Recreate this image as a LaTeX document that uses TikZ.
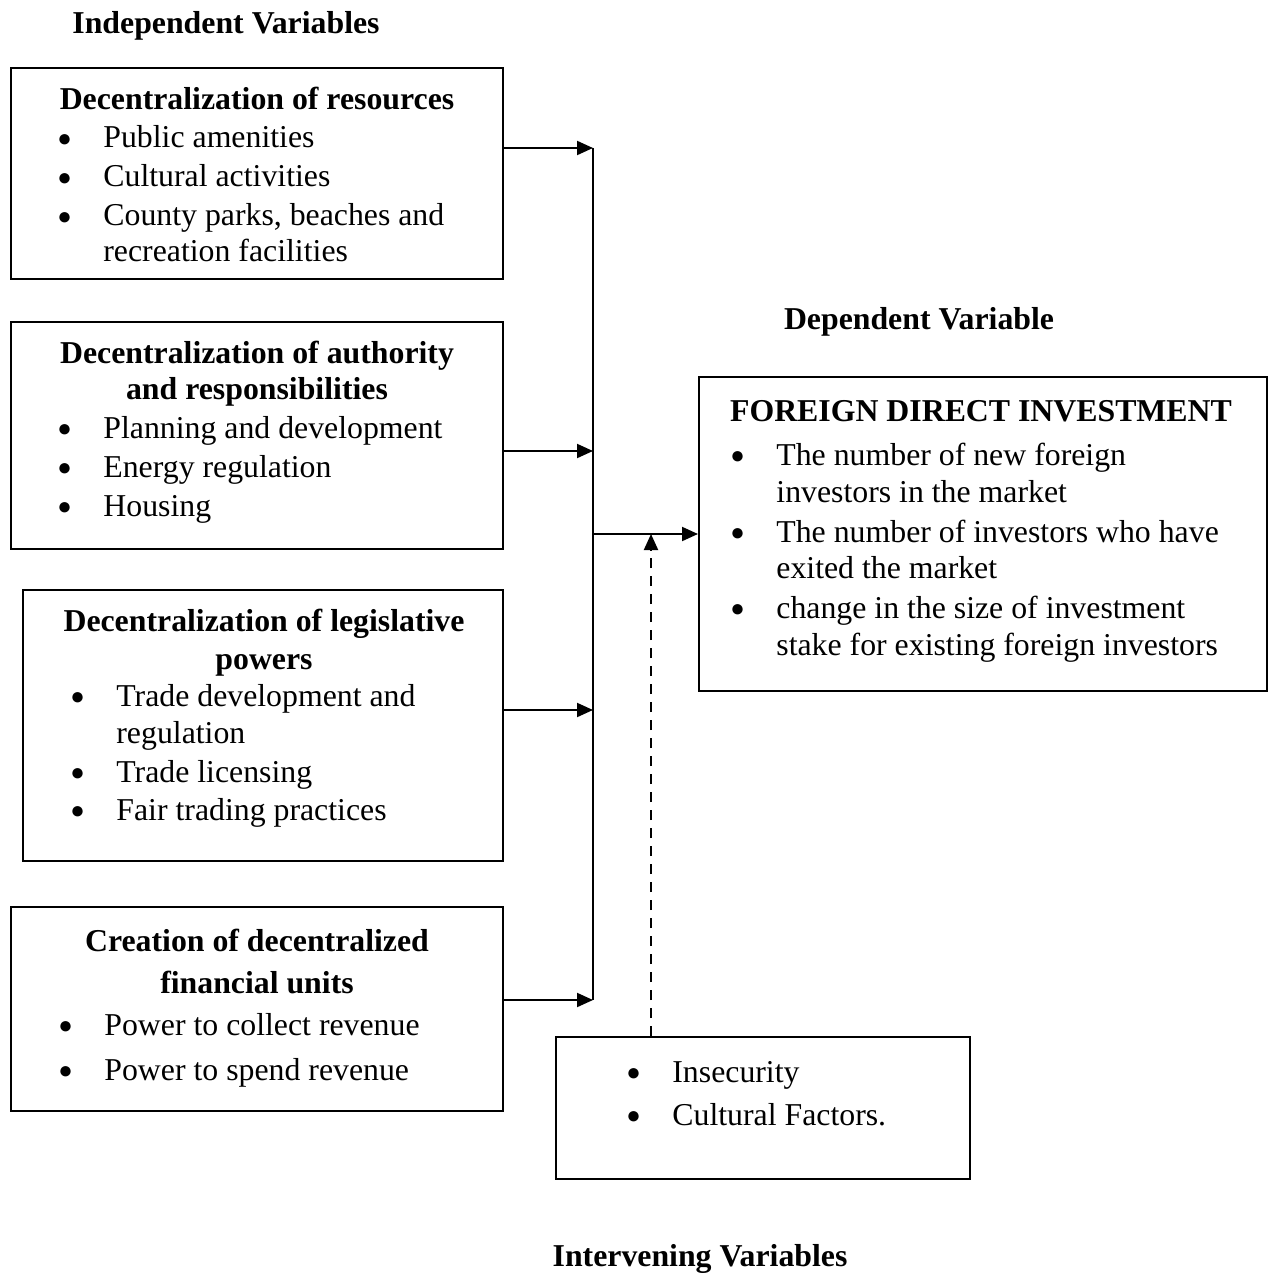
\documentclass[tikz,border=0pt]{standalone}
\usepackage{fontspec}
\setmainfont{Liberation Serif}
\usetikzlibrary{positioning,fit,arrows.meta}

\tikzset{
  box/.style={draw,line width=1pt,inner sep=0pt},
  head/.style={font=\bfseries,anchor=base,inner sep=0pt},
  blist/.style={anchor=base west,inner sep=0pt},
  arr/.style={line width=1pt,-{Triangle[length=8pt,width=7pt]}},
}
\newcommand{\bul}{\raisebox{0.8pt}{\fontsize{12}{12}\selectfont ●}}

\begin{document}
\fontsize{15.9}{18}\selectfont
\begin{tikzpicture}[x=0.5pt,y=-0.5pt]
\useasboundingbox (0,0) rectangle (1270,1273);

% headings
\node[head] (indep) at (226,34) {Independent Variables};
\node[head] (dep) at (919,329) {Dependent Variable};
\node[head] (inter) at (700,1266) {Intervening Variables};

% independent variables
\node[box,fit={(11,68) (503,279)}] (res) {};
\node[head] (resT) at (257,110) {Decentralization of resources};
\node[blist] (resL) at (57,148) {\begin{tabular}[t]{@{}p{23pt}@{}l@{}}
\bul & Public amenities\\[1.5pt]
\bul & Cultural activities\\[1.5pt]
\bul & County parks, beaches and\\
 & recreation facilities
\end{tabular}};

\node[box,fit={(11,322) (503,549)}] (auth) {};
\node[head] (authT) at (257,363) {\begin{tabular}[t]{@{}c@{}}
Decentralization of authority\\
and responsibilities
\end{tabular}};
\node[blist] (authL) at (57,438) {\begin{tabular}[t]{@{}p{23pt}@{}l@{}}
\bul & Planning and development\\[1.5pt]
\bul & Energy regulation\\[1.5pt]
\bul & Housing
\end{tabular}};

\node[box,fit={(23,590) (503,861)}] (leg) {};
\node[head] (legT) at (264,631) {\begin{tabular}[t]{@{}c@{}}
Decentralization of legislative\\[1pt]
powers
\end{tabular}};
\node[blist] (legL) at (70,706) {\begin{tabular}[t]{@{}p{23pt}@{}l@{}}
\bul & Trade development and\\[0.5pt]
 & regulation\\[1.5pt]
\bul & Trade licensing\\[1pt]
\bul & Fair trading practices
\end{tabular}};

\node[box,fit={(11,907) (503,1111)}] (fin) {};
\node[head] (finT) at (257,951) {\begin{tabular}[t]{@{}c@{}}
Creation of decentralized\\[3pt]
financial units
\end{tabular}};
\node[blist] (finL) at (58,1035) {\begin{tabular}[t]{@{}p{23pt}@{}l@{}}
\bul & Power to collect revenue\\[4.5pt]
\bul & Power to spend revenue
\end{tabular}};

% dependent variable
\node[box,fit={(699,377) (1267,691)}] (fdi) {};
\node[head] (fdiT) at (981,421) {FOREIGN DIRECT INVESTMENT};
\node[blist] (fdiL) at (730,465) {\begin{tabular}[t]{@{}p{23pt}@{}l@{}}
\bul & The number of new foreign\\[0.5pt]
 & investors in the market\\[2pt]
\bul & The number of investors who have\\
 & exited the market\\[2pt]
\bul & change in the size of investment\\[0.5pt]
 & stake for existing foreign investors
\end{tabular}};

% intervening variables
\node[box,fit={(556,1037) (970,1179)}] (intv) {};
\node[blist] (intvL) at (626,1082) {\begin{tabular}[t]{@{}p{23pt}@{}l@{}}
\bul & Insecurity\\[3.5pt]
\bul & Cultural Factors.
\end{tabular}};

% connectors
\coordinate (b1) at (593,148);
\coordinate (b2) at (593,451);
\coordinate (b3) at (593,710);
\coordinate (b4) at (593,1000);
\coordinate (jn) at (593,534);
\coordinate (dj) at (651,534);

\draw[line width=1pt] (b1) -- (b4);
\foreach \s/\b in {res/b1,auth/b2,leg/b3,fin/b4}
  \draw[arr] (\s.east |- \b) -- (\b);
\draw[arr] (jn) -- (fdi.west |- jn);
\draw[arr,dash pattern=on 5pt off 4pt] (intv.north -| dj) -- (dj);

\end{tikzpicture}
\end{document}
